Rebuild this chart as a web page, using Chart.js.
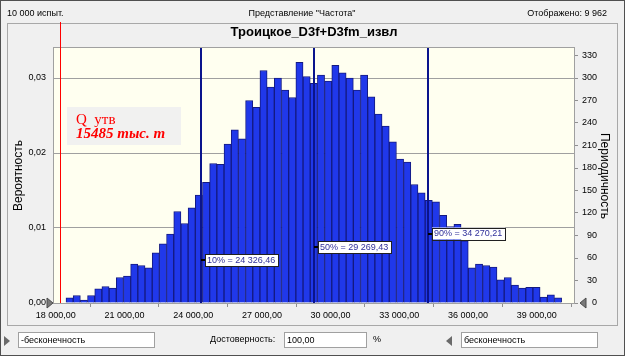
<!DOCTYPE html>
<html><head><meta charset="utf-8">
<script src="https://cdn.jsdelivr.net/npm/chart.js@4/dist/chart.umd.min.js"></script>
<style>
html,body{margin:0;padding:0;background:#f0f0f0;}
#wrap{position:relative;width:625px;height:356px;overflow:hidden;font-family:"Liberation Sans",Arial,sans-serif;color:#000;}
#outer{position:absolute;left:0;top:0;width:623px;height:354px;border:1px solid #505050;pointer-events:none;z-index:5;}
#frame{position:absolute;left:7px;top:23px;width:609px;height:301px;border:1px solid #a8a8a8;}
canvas{position:absolute;left:0;top:0;z-index:2;}
.t{position:absolute;font-size:9px;line-height:11px;white-space:nowrap;z-index:3;}
#title{position:absolute;left:9px;width:610px;top:24px;text-align:center;font-weight:bold;font-size:13px;line-height:16px;z-index:3;}
#rtitle{position:absolute;left:555px;top:169px;width:100px;height:14px;line-height:14px;text-align:center;font-size:12px;transform:rotate(90deg);z-index:3;}
#qbox{position:absolute;left:67px;top:107px;width:114px;height:38px;background:rgba(240,240,240,0.92);z-index:3;}
.q{position:absolute;font-family:"Liberation Serif","Times New Roman",serif;font-size:15px;color:#ff0000;white-space:nowrap;line-height:17px;z-index:4;}
.inp{position:absolute;top:332px;height:14px;background:#fff;border:1px solid #a0a0a0;font-size:9px;line-height:14px;padding-left:2px;box-sizing:content-box;z-index:3;}
.tri{position:absolute;width:0;height:0;border-top:5px solid transparent;border-bottom:5px solid transparent;z-index:3;}
</style></head>
<body><div id="wrap">
<div id="frame"></div>
<div class="t" style="left:7px;top:8px;">10 000 испыт.</div>
<div class="t" style="left:200px;width:204px;text-align:center;top:8px;">Представление "Частота"</div>
<div class="t" style="right:18px;top:8px;">Отображено: 9 962</div>
<div id="title">Троицкое_D3f+D3fm_извл</div>
<canvas id="c" width="625" height="356"></canvas>
<div id="rtitle">Периодичность</div>
<div id="qbox"></div>
<div class="q" style="left:76px;top:111px;">Q&nbsp; утв</div>
<div class="q" style="left:76px;top:125px;font-weight:bold;font-style:italic;">15485 тыс. т</div>
<div class="tri" style="left:4px;top:336px;border-left:6px solid #6a6a6a;"></div>
<div class="inp" style="left:18px;width:133px;">-бесконечность</div>
<div class="t" style="left:210px;top:334px;">Достоверность:</div>
<div class="inp" style="left:284px;width:79px;">100,00</div>
<div class="t" style="left:373px;top:334px;">%</div>
<div class="tri" style="left:446px;top:336px;border-right:6px solid #6a6a6a;"></div>
<div class="inp" style="left:461px;width:133px;">бесконечность</div>
<div id="outer"></div>
</div>
<script>
// ---- data ----
const binStart = 18445;      // left edge of first bin
const binWidth = 313.7;      // bin width
const counts = [7,10,4,10,19,22,20,34,36,52,
                50,47,67,79,92,122,106,127,144,161,
                186,185,212,231,219,270,261,310,288,300,
                284,274,321,302,293,304,296,317,307,300,
                284,304,275,252,236,215,192,188,158,147,
                137,135,117,102,105,83,47,52,50,48,
                31,34,24,20,21,21,8,11,7];
const xTicks = [18000,21000,24000,27000,30000,33000,36000,39000];
const probTicks = [0,0.01,0.02,0.03];
const countTicks = [0,30,60,90,120,150,180,210,240,270,300,330];
const pctNames = [10,50,90];
const pctValues = [24326.46,29269.43,34270.21];
const qLineValue = 18162;

// ---- helpers ----
function fmtNum(v, dec){
  const s = v.toFixed(dec);
  let [i,d] = s.split('.');
  i = i.replace(/\B(?=(\d{3})+(?!\d))/g,' ');
  return d ? i+','+d : i;
}
const FONT = '"Liberation Sans", Arial, sans-serif';
const barData = counts.map((c,i)=>({x: binStart + (i+0.5)*binWidth, y: c}));
const labelY = [260,247,233.5];

const deco = {
  id:'deco',
  beforeDraw(chart){
    const {ctx, chartArea:a} = chart;
    ctx.save();
    ctx.fillStyle = '#FFFFF0';
    ctx.fillRect(a.left, a.top, a.right-a.left, a.bottom-a.top);
    ctx.restore();
  },
  afterDatasetsDraw(chart){
    const {ctx, chartArea:a, scales} = chart;
    const xs = scales.x;
    ctx.save();
    // frame
    ctx.strokeStyle = '#a0a0a0'; ctx.lineWidth = 1;
    ctx.strokeRect(a.left-0.5, a.top-0.5, a.right-a.left+1, a.bottom-a.top+1);
    // percentile lines
    pctValues.forEach((v,k)=>{
      const px = Math.round(xs.getPixelForValue(v));
      ctx.strokeStyle = '#0a148c'; ctx.lineWidth = 2;
      ctx.beginPath(); ctx.moveTo(px, a.top); ctx.lineTo(px, a.bottom); ctx.stroke();
    });
    pctValues.forEach((v,k)=>{
      const px = Math.round(xs.getPixelForValue(v));
      const txt = pctNames[k] + '% = ' + fmtNum(v,2);
      ctx.font = '9px ' + FONT;
      const w = Math.ceil(ctx.measureText(txt).width) + 4;
      const bx = px + 4, cy = labelY[k], h = 12;
      ctx.fillStyle = '#ffffff';
      ctx.fillRect(bx, cy-h/2, w, h);
      ctx.strokeStyle = '#202020'; ctx.lineWidth = 1;
      ctx.strokeRect(bx+0.5, Math.round(cy-h/2)+0.5, w, h);
      ctx.strokeStyle = '#000'; ctx.lineWidth = 2;
      ctx.beginPath(); ctx.moveTo(px, Math.round(cy)); ctx.lineTo(bx, Math.round(cy)); ctx.stroke();
      ctx.fillStyle = '#30309a';
      ctx.textBaseline = 'middle'; ctx.textAlign = 'left';
      ctx.fillText(txt, bx+2, cy+0.5);
    });
    // red Q line
    const rx = Math.round(xs.getPixelForValue(qLineValue)) + 0.5;
    ctx.strokeStyle = '#ff0000'; ctx.lineWidth = 1;
    ctx.beginPath(); ctx.moveTo(rx, 22); ctx.lineTo(rx, a.bottom); ctx.stroke();
    // grabber triangles
    ctx.fillStyle = '#7a7a7a'; ctx.strokeStyle = '#4a4a4a'; ctx.lineWidth = 1;
    ctx.beginPath(); ctx.moveTo(a.left-7, a.bottom-5); ctx.lineTo(a.left-1, a.bottom); ctx.lineTo(a.left-7, a.bottom+5); ctx.closePath(); ctx.fill(); ctx.stroke();
    ctx.beginPath(); ctx.moveTo(a.right+12, a.bottom-5); ctx.lineTo(a.right+6, a.bottom); ctx.lineTo(a.right+12, a.bottom+5); ctx.closePath(); ctx.fill(); ctx.stroke();
    ctx.restore();
  }
};

new Chart(document.getElementById('c'), {
  type:'bar',
  data:{datasets:[{
    data: barData,
    yAxisID:'yR',
    backgroundColor:'#2038ea',
    borderColor:'#141a80',
    borderWidth:1,
    barPercentage:1.0,
    categoryPercentage:1.0
  }]},
  options:{
    responsive:false, animation:false,
    layout:{padding:{left:8, right:28, top:48, bottom:33}},
    plugins:{legend:{display:false}, tooltip:{enabled:false}},
    scales:{
      x:{type:'linear', min:17921, max:40630, offset:false,
         afterBuildTicks:s=>{s.ticks = xTicks.map(v=>({value:v}));},
         ticks:{autoSkip:false, maxRotation:0, font:{size:9, family:FONT}, color:'#000', padding:3,
                callback:v=>fmtNum(v,2)},
         grid:{drawOnChartArea:false, tickLength:4, color:'#909090'},
         border:{display:false},
         afterFit:s=>{s.height=20;}},
      y:{position:'left', min:0, max:0.034,
         afterBuildTicks:s=>{s.ticks = probTicks.map(v=>({value:v}));},
         ticks:{font:{size:9, family:FONT}, color:'#000', padding:8,
                callback:v=>v.toFixed(2).replace('.',',')},
         grid:{color:'#a0a0a0', drawTicks:false},
         border:{display:false},
         title:{display:true, text:'Вероятность', font:{size:12, family:FONT}, color:'#000', padding:{top:3,bottom:0}},
         afterFit:s=>{s.width=46;}},
      yR:{position:'right', min:0, max:340,
         afterBuildTicks:s=>{s.ticks = countTicks.map(v=>({value:v}));},
         ticks:{autoSkip:false, crossAlign:'far', font:{size:9, family:FONT}, color:'#000', padding:3},
         grid:{drawOnChartArea:false, tickLength:4, color:'#909090'},
         border:{display:false},
         afterFit:s=>{s.width=23;}}
    }
  },
  plugins:[deco]
});
</script>
</body></html>
